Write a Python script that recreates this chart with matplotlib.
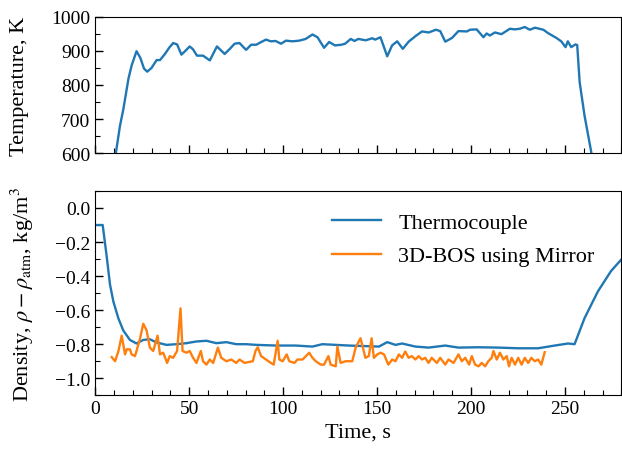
import numpy as np
import matplotlib
matplotlib.use("Agg")
import matplotlib.pyplot as plt
from matplotlib.ticker import MultipleLocator

plt.rcParams['font.family'] = ['Liberation Serif', 'DejaVu Serif']
plt.rcParams['mathtext.fontset'] = 'stix'

# thermocouple temperature, K
t_temp = [0, 5, 9, 11, 13.2, 15, 17.7, 19.4, 22, 24, 26, 27.7, 30, 32.7, 34.5, 37, 39.5, 41.5,
          43.6, 45.9, 48, 50.3, 52, 54.2, 57.4, 61, 64.8, 68.9, 71.5, 74.2, 76.8, 80.3, 83,
          85.7, 88, 90.9, 93.5, 96, 98.9, 101.5, 105, 108.6, 112, 115.6, 118.3, 121.8, 124.5,
          127.6, 131, 133, 136, 138, 140, 144, 147.4, 149, 151.8, 155.4, 158, 160.7, 163.7,
          166.8, 170.4, 173.9, 177.5, 181.3, 183.6, 186.3, 189.9, 193.3, 197.8, 199.5, 203,
          206.6, 208.3, 210, 212.7, 216.2, 220.7, 223.3, 226, 228.6, 231.3, 234, 238.5, 241,
          245.4, 248, 250.3, 251.5, 253.3, 255.6, 256.5, 257.8, 260.4, 264, 268, 280]
temp = [300, 350, 520, 600, 680, 729, 818, 857, 899, 880, 848, 839, 850, 873, 873, 890, 910, 923,
        919, 889, 900, 913, 905, 886, 886, 872, 913, 891, 905, 921, 923, 903, 918,
        918, 925, 933, 928, 929, 921, 930, 928, 930, 935, 948, 940, 909, 926,
        916, 918, 921, 935, 929, 935, 931, 937, 933, 940, 884, 916, 928, 906,
        927, 943, 957, 954, 962, 958, 927, 938, 958, 957, 962, 963,
        940, 951, 945, 954, 949, 965, 963, 965, 970, 962, 968, 962, 952,
        938, 928, 911, 928, 911, 919, 917, 808, 710, 602, 500, 350]

# density from thermocouple
t_dens = [0, 4, 6.2, 7.9, 9.7, 12.4, 15, 18.5, 22, 25.6, 29.1, 32.7, 38, 43.3, 48.6, 53.9, 59.2,
          64.5, 69.8, 75.1, 80.4, 85.7, 96.2, 106.8, 115.6, 120.9, 128, 135, 140.4, 151, 155.4,
          159.8, 163.3, 170.4, 177.4, 186.3, 193.3, 203.9, 214.5, 225.1, 235.7, 244.5, 251.6,
          255.1, 260.4, 267.5, 274.5, 281]
dens = [-0.10, -0.10, -0.29, -0.45, -0.55, -0.65, -0.72, -0.775, -0.796, -0.775, -0.771, -0.79,
        -0.804, -0.80, -0.794, -0.784, -0.78, -0.794, -0.788, -0.80, -0.80, -0.804, -0.808,
        -0.808, -0.814, -0.80, -0.804, -0.808, -0.81, -0.814, -0.788, -0.804, -0.796, -0.814,
        -0.82, -0.808, -0.82, -0.818, -0.82, -0.824, -0.824, -0.808, -0.796, -0.80, -0.647,
        -0.49, -0.37, -0.29]

# density from 3D-BOS using mirror
t_bos = [8.8, 10.6, 12.4, 14.1, 15.9, 16.8, 18.5, 19.4, 21.2, 22, 23.8, 25.6, 27.4, 29.1, 30.9,
         33.2, 34.5, 36.2, 38.3, 39.7, 41.5, 43.6, 45.4, 46.5, 48.6, 50.3, 52.1, 53.9, 56.2,
         57.4, 59.2, 61, 62.8, 65.3, 67.1, 69.8, 72.4, 75.1, 76.8, 79.5, 83.9, 85.3, 86.5, 88.3,
         90.9, 93.5, 95, 97.1, 98, 99.8, 101.9, 103.3, 106, 107.7, 110.4, 113.9, 115.6, 117.4,
         120, 121.8, 124.1, 125.3, 128, 128.9, 130.6, 133.3, 136.8, 138.6, 141.2, 143.8, 145.6,
         147.1, 148.3, 150.1, 151.9, 153.7, 156, 158, 159.8, 161.6, 163.3, 165, 166.8, 168.5,
         170.4, 172.1, 173.9, 175.6, 177.4, 179.1, 181.8, 183.6, 186.3, 188, 190.7, 193.3,
         195.1, 196.9, 199, 200.4, 202.2, 204, 205.7, 207.5, 209.2, 211, 211.9, 213.7, 215.4,
         217.2, 219, 220.2, 221.6, 223.4, 225.1, 226.9, 228.6, 230.4, 232.1, 233.9, 235.7,
         237.4, 239.2]
bos = [-0.876, -0.90, -0.84, -0.75, -0.86, -0.83, -0.83, -0.86, -0.87, -0.84, -0.77, -0.68, -0.72,
       -0.82, -0.84, -0.75, -0.86, -0.85, -0.91, -0.87, -0.88, -0.84, -0.59, -0.84, -0.85,
       -0.84, -0.88, -0.91, -0.84, -0.90, -0.92, -0.89, -0.91, -0.82, -0.88, -0.90, -0.89,
       -0.91, -0.89, -0.91, -0.90, -0.84, -0.818, -0.87, -0.89, -0.91, -0.92, -0.78, -0.89,
       -0.90, -0.86, -0.90, -0.91, -0.89, -0.89, -0.85, -0.88, -0.90, -0.92, -0.92, -0.87,
       -0.92, -0.93, -0.814, -0.91, -0.90, -0.90, -0.82, -0.765, -0.88, -0.87, -0.765, -0.88,
       -0.86, -0.85, -0.86, -0.92, -0.89, -0.90, -0.86, -0.88, -0.843, -0.88, -0.87, -0.89,
       -0.87, -0.89, -0.88, -0.91, -0.88, -0.91, -0.88, -0.92, -0.89, -0.91, -0.86, -0.90,
       -0.88, -0.92, -0.87, -0.92, -0.93, -0.91, -0.93, -0.90, -0.88, -0.84, -0.89, -0.85,
       -0.89, -0.87, -0.93, -0.88, -0.92, -0.88, -0.92, -0.88, -0.91, -0.88, -0.90, -0.89,
       -0.92, -0.847]

fig = plt.figure(figsize=(6.22, 4.56), dpi=100)
ax1 = fig.add_axes([0.153, 0.662, 0.846, 0.299])
ax2 = fig.add_axes([0.153, 0.131, 0.846, 0.448])

ax1.plot(t_temp, temp, color='#1f77b4', lw=1.7)
ax1.set_xlim(0, 280)
ax1.set_ylim(600, 1000)
ax1.set_ylabel('Temperature, K', fontsize=16)
ax1.yaxis.set_major_locator(MultipleLocator(100))
ax1.yaxis.set_minor_locator(MultipleLocator(50))
ax1.set_xticklabels([])

ax2.plot(t_dens, dens, color='#1f77b4', lw=1.7, label='Thermocouple')
ax2.plot(t_bos, bos, color='#ff7f0e', lw=1.7, label='3D-BOS using Mirror')
ax2.set_xlim(0, 280)
ax2.set_ylim(-1.1, 0.1)
ax2.set_ylabel(r'Density, $\rho-\rho_{\rm atm}$, kg/m$^3$', fontsize=16)
ax2.set_xlabel('Time, s', fontsize=16)
ax2.yaxis.set_major_locator(MultipleLocator(0.2))
ax2.yaxis.set_minor_locator(MultipleLocator(0.1))
ax2.legend(loc='upper right', frameon=False, fontsize=16, handlelength=2.2,
           labelspacing=0.6, bbox_to_anchor=(0.987, 0.995))

for ax in (ax1, ax2):
    ax.xaxis.set_major_locator(MultipleLocator(50))
    ax.xaxis.set_minor_locator(MultipleLocator(10))
    ax.tick_params(which='both', direction='in', labelsize=14, top=False, right=False)
    ax.tick_params(which='major', length=6, width=1)
    ax.tick_params(which='minor', length=3.5, width=0.8)

ax1.yaxis.set_label_coords(-0.125, 0.5)
ax2.yaxis.set_label_coords(-0.112, 0.5)

fig.savefig('out.png', dpi=100)
